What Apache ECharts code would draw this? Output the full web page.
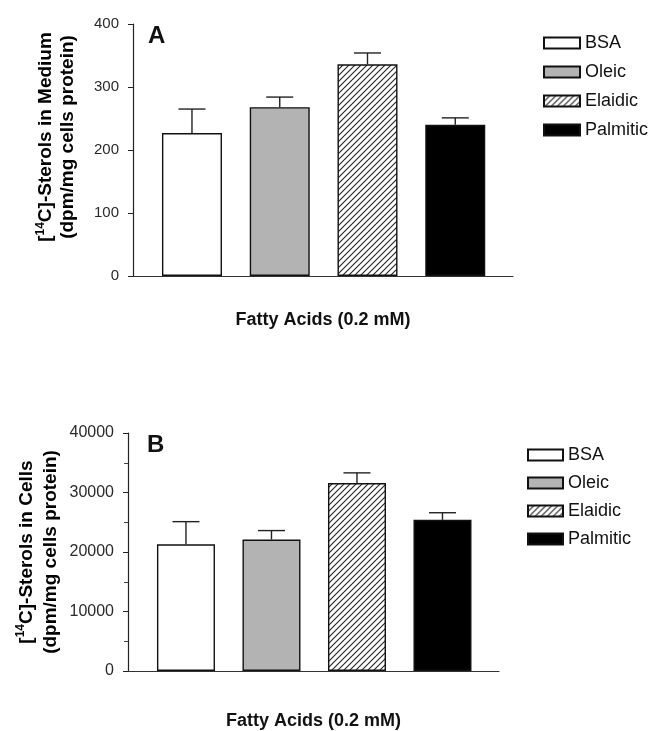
<!DOCTYPE html>
<html>
<head>
<meta charset="utf-8">
<script src="https://cdn.jsdelivr.net/npm/echarts@6/dist/echarts.min.js"></script>
<style>
html,body{margin:0;padding:0;background:#fff;}
#chart{width:657px;height:731px;}
</style>
</head>
<body>
<div id="chart"></div>
<script>
// ---- data ----
var categories = ['BSA', 'Oleic', 'Elaidic', 'Palmitic'];
var mediumMeans = [227, 268, 336, 240];
var mediumErrors = [38, 16, 18, 11];
var cellsMeans = [21300, 22100, 31600, 25400];
var cellsErrors = [3800, 1500, 1700, 1200];
var mediumTicks = [0, 100, 200, 300, 400];
var cellsTicks = [0, 10000, 20000, 30000, 40000];

// ---- styles ----
var FONT = '"Liberation Sans", Arial, Helvetica, sans-serif';
function hatch() {
  var c = document.createElement('canvas');
  c.width = 6; c.height = 6;
  var g = c.getContext('2d');
  g.fillStyle = '#fff'; g.fillRect(0, 0, 6, 6);
  g.strokeStyle = '#222'; g.lineWidth = 1.1;
  g.beginPath();
  g.moveTo(-1, 7); g.lineTo(7, -1);
  g.moveTo(-1, 1); g.lineTo(1, -1);
  g.moveTo(5, 7); g.lineTo(7, 5);
  g.stroke();
  return { image: c, repeat: 'repeat' };
}
var fills = ['#ffffff', '#b3b3b3', hatch(), '#000000'];

var chart = echarts.init(document.getElementById('chart'), null, { renderer: 'canvas' });

var grids = [
  { left: 133, top: 24, width: 380, height: 252 },
  { left: 128, top: 433, width: 371, height: 246 }
];
var xRanges = [[-0.672, 3.658], [-0.678, 3.661]];
var barWidths = [60, 58];
var panels = [
  { means: mediumMeans, errs: mediumErrors, ticks: mediumTicks, fs: 15 },
  { means: cellsMeans, errs: cellsErrors, ticks: cellsTicks, fs: 16 }
];

var xAxes = [], yAxes = [], series = [];
panels.forEach(function (p, gi) {
  xAxes.push({
    type: 'value', gridIndex: gi, min: xRanges[gi][0], max: xRanges[gi][1],
    axisLine: { show: true, onZero: false, lineStyle: { color: '#333', width: 1.2 } },
    axisTick: { show: false }, axisLabel: { show: false }, splitLine: { show: false },
    name: 'Fatty Acids (0.2 mM)', nameLocation: 'middle', nameGap: gi === 0 ? 35 : 41,
    nameTextStyle: { fontFamily: FONT, fontWeight: 'bold', fontSize: 18, color: '#111' }
  });
  var t = p.ticks;
  yAxes.push({
    type: 'value', gridIndex: gi, min: t[0], max: t[t.length - 1], interval: t[1] - t[0],
    axisLine: { show: true, onZero: false, lineStyle: { color: '#222', width: 1.2 } },
    axisTick: { show: true, length: 5, lineStyle: { color: '#222', width: 1 } },
    minorTick: { show: gi === 1, splitNumber: 2, length: 4, lineStyle: { color: '#444', width: 1 } },
    axisLabel: { fontFamily: FONT, fontSize: p.fs, color: '#2a2a2a', margin: 14,
      formatter: function (v) { return String(v); } },
    splitLine: { show: false }
  });
  categories.forEach(function (c, i) {
    series.push({
      type: 'bar', name: c, xAxisIndex: gi, yAxisIndex: gi,
      barWidth: barWidths[gi], barGap: '-100%',
      data: [[i, p.means[i]]],
      itemStyle: { color: fills[i], borderColor: '#111', borderWidth: 1.4 },
      emphasis: { disabled: true }
    });
  });
  series.push({
    type: 'custom', name: 'err' + gi, xAxisIndex: gi, yAxisIndex: gi, z: 5,
    data: p.means.map(function (m, i) { return [i, m, m + p.errs[i]]; }),
    renderItem: function (params, api) {
      var a = api.coord([api.value(0), api.value(1)]);
      var b = api.coord([api.value(0), api.value(2)]);
      var half = 13.5;
      var st = { stroke: '#222', lineWidth: 1.4 };
      return {
        type: 'group', children: [
          { type: 'line', shape: { x1: a[0], y1: a[1], x2: b[0], y2: b[1] }, style: st },
          { type: 'line', shape: { x1: b[0] - half, y1: b[1], x2: b[0] + half, y2: b[1] }, style: st }
        ]
      };
    }
  });
});

var richTitle = {
  n: { fontFamily: FONT, fontWeight: 'bold', fontSize: 19, color: '#111', lineHeight: 22 },
  s: { fontFamily: FONT, fontWeight: 'bold', fontSize: 12, color: '#111', lineHeight: 22, verticalAlign: 'top', padding: [0, 0, 8, 0] }
};
var richTitleB = {
  n: { fontFamily: FONT, fontWeight: 'bold', fontSize: 19, color: '#111', lineHeight: 24 },
  s: { fontFamily: FONT, fontWeight: 'bold', fontSize: 12, color: '#111', lineHeight: 24, verticalAlign: 'top', padding: [0, 0, 8, 0] }
};

var legendText = { fontFamily: FONT, fontSize: 18, color: '#111', lineHeight: 20 };
chart.setOption({
  animation: false,
  backgroundColor: '#fff',
  grid: grids,
  xAxis: xAxes,
  yAxis: yAxes,
  legend: [
    { data: categories, orient: 'vertical', left: 543, top: 33, padding: 0, icon: 'rect',
      itemWidth: 36, itemHeight: 11, itemGap: 9, selectedMode: false, textStyle: legendText },
    { data: categories, orient: 'vertical', left: 527, top: 445, padding: 0, icon: 'rect',
      itemWidth: 35, itemHeight: 11, itemGap: 8, selectedMode: false, textStyle: legendText }
  ],
  graphic: [
    { type: 'text', x: 57, y: 137, rotation: Math.PI / 2,
      style: { text: '{n|[}{s|14}{n|C]-Sterols in Medium}\n{n|(dpm/mg cells protein)}', rich: richTitle, align: 'center', verticalAlign: 'middle' } },
    { type: 'text', x: 39, y: 552, rotation: Math.PI / 2,
      style: { text: '{n|[}{s|14}{n|C]-Sterols in Cells}\n{n|(dpm/mg cells protein)}', rich: richTitleB, align: 'center', verticalAlign: 'middle' } },
    { type: 'text', x: 148, y: 24, style: { text: 'A', fontFamily: FONT, fontWeight: 'bold', fontSize: 24, fill: '#111' } },
    { type: 'text', x: 147, y: 433, style: { text: 'B', fontFamily: FONT, fontWeight: 'bold', fontSize: 24, fill: '#111' } }
  ],
  series: series
});
</script>
</body>
</html>
